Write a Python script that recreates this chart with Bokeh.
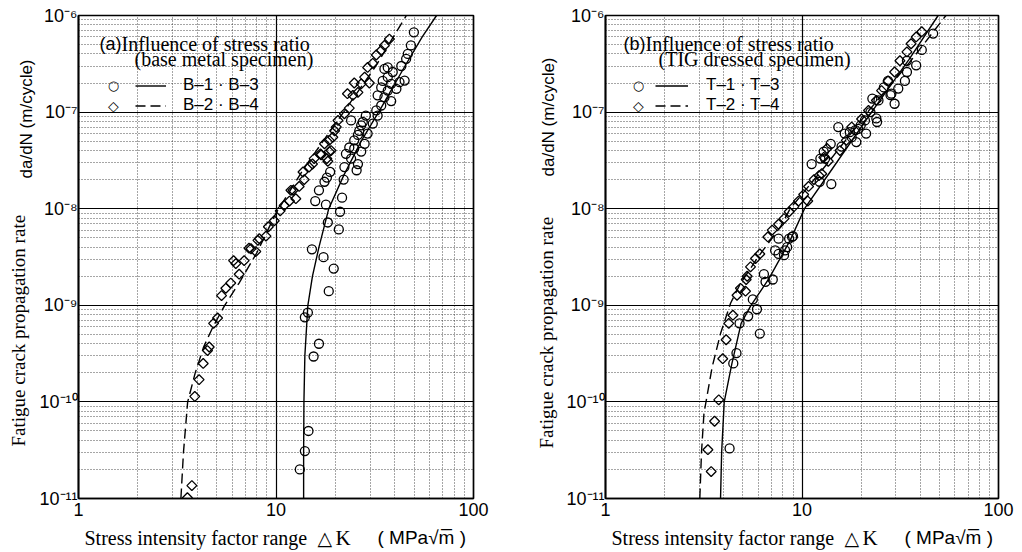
import numpy as np
from bokeh.plotting import figure
from bokeh.layouts import row, column
from bokeh.models import (Range1d, FixedTicker, CustomJSTickFormatter, Label,
                          Legend, LegendItem)
from bokeh.embed import file_html
from bokeh.resources import INLINE

# ---------------- data: panel (a) base metal ----------------
a_circle_K = [18.5, 14.5, 14.0, 16.5, 15.5, 14.6, 14.0, 13.2,
              15.2, 17.4, 19.6, 18.3, 20.8, 21.1, 21.6, 15.8, 16.5, 17.6, 18.8, 18.1,
              22.0, 22.2, 22.6, 17.9, 23.5, 24.9, 26.4, 27.5, 28.5, 27.0, 28.1, 26.0,
              25.6, 24.0, 29.1, 30.9, 32.7, 24.0, 32.2, 34.1, 35.4, 32.7, 36.8, 38.3,
              34.1, 40.7, 42.2, 44.8, 36.8, 39.0, 43.1, 45.6, 46.5, 48.2, 49.9, 34.7,
              38.3, 35.4, 36.8, 27.0, 26.0, 24.9]
a_circle_v = [1.4e-9, 8.4e-10, 7.5e-10, 4.0e-10, 2.95e-10, 5e-11, 3.1e-11, 2e-11,
              3.8e-9, 3.15e-9, 2.4e-9, 7.2e-9, 6.1e-9, 9.3e-9, 1.3e-8, 1.2e-8, 1.55e-8, 1.9e-8, 2.4e-8, 2.1e-8,
              2.0e-8, 2.7e-8, 3.7e-8, 1.1e-8, 4.3e-8, 5.1e-8, 6.4e-8, 7.9e-8, 9.2e-8, 3.9e-8, 4.7e-8, 2.9e-8,
              2.5e-8, 3.3e-8, 6e-8, 7.6e-8, 9.2e-8, 8.2e-8, 1.04e-7, 1.17e-7, 1.42e-7, 1.49e-7, 1.67e-7, 1.96e-7,
              1.8e-7, 1.74e-7, 2.04e-7, 2.12e-7, 2.9e-7, 2.6e-7, 3.0e-7, 3.56e-7, 4.0e-7, 4.9e-7, 6.7e-7, 2.1e-7,
              1.3e-7, 2.8e-7, 2.3e-7, 7.3e-8, 5.8e-8, 4.2e-8]
a_diamond_K = [3.56, 3.75, 3.88, 4.08, 4.28, 4.59, 4.5, 4.83, 5.06, 5.3, 5.57, 5.9,
               6.51, 6.26, 6.9, 7.47, 7.9, 8.23, 8.9, 9.15, 9.8, 10.5, 11.0, 11.7,
               12.6, 12.2, 13.1, 13.9, 13.7, 14.7, 15.6, 16.8, 18.1, 18.6, 17.6, 19.4,
               20.2, 18.6, 19.8, 20.6, 22.2, 23.5, 24.5, 26.0, 27.0, 28.1, 29.1, 30.9,
               32.2, 34.1, 35.4, 37.5, 29.7, 24.9, 23.0, 19.0, 16.9, 18.3, 15.3, 11.9,
               6.1, 7.3, 8.1]
a_diamond_v = [1.02e-11, 1.36e-11, 1.14e-10, 1.7e-10, 2.5e-10, 3.7e-10, 3.4e-10, 6.5e-10, 7.4e-10, 1.26e-9, 1.5e-9, 1.7e-9,
               2.1e-9, 2.7e-9, 2.9e-9, 3.85e-9, 3.6e-9, 4.9e-9, 5.2e-9, 6.5e-9, 7.5e-9, 9.5e-9, 1.08e-8, 1.2e-8,
               1.27e-8, 1.55e-8, 1.7e-8, 2.0e-8, 2.4e-8, 2.7e-8, 3.3e-8, 3.7e-8, 3.3e-8, 3.9e-8, 4.7e-8, 5.5e-8,
               7e-8, 5.1e-8, 6.4e-8, 8.2e-8, 9.6e-8, 1.1e-7, 1.49e-7, 1.6e-7, 1.96e-7, 2.3e-7, 2.9e-7, 3.2e-7,
               3.9e-7, 4.35e-7, 4.9e-7, 5.7e-7, 2.0e-7, 2.0e-7, 1.55e-7, 4.0e-8, 3.6e-8, 3.1e-8, 2.9e-8, 1.55e-8,
               2.9e-9, 3.9e-9, 4.7e-9]
a_solid_K = [13.8, 13.8, 13.85, 14.0, 14.5, 15.3, 16.5, 18.5, 22.0, 27.0, 34.0, 45.0, 55.0, 65.0]
a_solid_v = [1e-11, 3e-11, 1e-10, 3e-10, 1e-9, 2e-9, 4e-9, 1e-8, 2.2e-8, 5e-8, 1.1e-7, 3e-7, 6e-7, 1e-6]
a_dash_K = [3.3, 3.4, 3.57, 3.9, 4.3, 4.8, 5.5, 6.5, 8.0, 10.0, 14.0, 22.0, 32.0, 45.7]
a_dash_v = [1e-11, 3e-11, 1e-10, 2e-10, 3.7e-10, 6e-10, 1e-9, 1.7e-9, 3.5e-9, 9e-9, 2.7e-8, 1e-7, 3e-7, 1e-6]

# ---------------- data: panel (b) TIG dressed ----------------
b_circle_K = [4.28, 4.47, 4.64, 4.81, 5.32, 6.1, 5.9, 5.62, 6.52, 7.1, 6.4,
              7.6, 8.1, 8.4, 8.6, 8.9, 7.3, 7.6, 8.2, 9.0,
              14.1, 12.3, 18.9, 21.2, 23.9, 15.3, 16.5, 29.6, 28.5, 30.9, 33.4, 34.2,
              38.1, 46.5, 27.4, 24.5, 20.9, 19.3, 17.9, 15.9, 13.1, 11.2, 40.7, 34.2,
              22.3, 24.1, 28.2, 26.1, 22.8, 19.9, 18.7, 17.5, 14.0, 12.9, 12.4]
b_circle_v = [3.3e-11, 2.5e-10, 3.2e-10, 6.5e-10, 7.7e-10, 5.1e-10, 9.1e-10, 1.15e-9, 1.75e-9, 1.85e-9, 2.1e-9,
              3.4e-9, 3.3e-9, 4e-9, 4.9e-9, 5.1e-9, 3.7e-9, 4.9e-9, 3.7e-9, 5.2e-9,
              1.8e-8, 1.9e-8, 4.9e-8, 6e-8, 8.6e-8, 7.0e-8, 6e-8, 1.22e-7, 1.55e-7, 1.75e-7, 2.1e-7, 2.6e-7,
              3.05e-7, 6.5e-7, 2.1e-7, 1.32e-7, 8.2e-8, 6.7e-8, 5.5e-8, 4.4e-8, 3.3e-8, 2.9e-8, 4.4e-7, 3.4e-7,
              1.0e-7, 7.9e-8, 1.5e-7, 1.8e-7, 1.38e-7, 7.3e-8, 6.5e-8, 6.2e-8, 4.7e-8, 3.9e-8, 3.3e-8]
b_diamond_K = [3.45, 3.32, 3.59, 3.77, 3.95, 4.11, 4.24, 4.45, 4.67, 5.16, 5.2,
               4.86, 5.26, 5.47, 5.8, 6.1, 6.7, 7.05, 7.6, 8.1, 8.6, 9.1, 9.6, 10.2,
               10.8, 11.5, 12.2, 12.9, 13.4, 10.7, 12.6, 13.6, 15.6, 16.8, 17.9, 20.1,
               21.8, 23.9, 25.4, 27.4, 29.6, 31.5, 34.2, 35.9, 38.1, 40.7]
b_diamond_v = [1.9e-11, 3.2e-11, 6.3e-11, 1.05e-10, 2.8e-10, 4.4e-10, 6.5e-10, 7.9e-10, 1.27e-9, 1.4e-9, 1.85e-9,
               1.5e-9, 2.0e-9, 2.5e-9, 3.05e-9, 3.4e-9, 5.1e-9, 6e-9, 6.9e-9, 7.9e-9, 9.3e-9, 1.05e-8, 1.2e-8, 1.4e-8,
               1.7e-8, 2.0e-8, 2.2e-8, 3.4e-8, 4.2e-8, 1.2e-8, 2.3e-8, 3.1e-8, 4e-8, 5.1e-8, 7e-8, 8.5e-8,
               1.04e-7, 1.32e-7, 1.67e-7, 2.1e-7, 2.6e-7, 3.4e-7, 4.2e-7, 5.1e-7, 6.0e-7, 6.8e-7]
b_solid_K = [3.85, 3.9, 4.02, 4.4, 4.9, 5.5, 6.8, 8.7, 10.3, 13.7, 22.6, 35.0, 49.3]
b_solid_v = [1e-11, 3e-11, 1e-10, 2.5e-10, 6.5e-10, 1e-9, 1.9e-9, 4.7e-9, 1e-8, 2.3e-8, 1e-7, 3.5e-7, 1e-6]
b_dash_K = [3.02, 3.08, 3.17, 3.49, 3.85, 4.33, 4.86, 6.0, 7.77, 8.7, 13.4, 22.0, 35.0, 54.0]
b_dash_v = [1e-11, 3e-11, 7.6e-11, 2.3e-10, 5.1e-10, 1.05e-9, 1.68e-9, 3.2e-9, 6.5e-9, 1e-8, 2.9e-8, 1.05e-7, 3.2e-7, 1e-6]

x_major = [1, 10, 100]
y_major = [1e-11, 1e-10, 1e-9, 1e-8, 1e-7, 1e-6]
mantissas = [2, 3, 4, 5, 6, 7, 8, 9]
x_minor = [m * 10.0 ** e for e in (0, 1) for m in mantissas]
y_minor = [m * 10.0 ** e for e in range(-11, -6) for m in mantissas]

SERIF = "Liberation Serif"
SANS = "Liberation Sans"
H_TOP = 522

ytick_fmt = CustomJSTickFormatter(code="""
const sup = {'-':'\u207B','0':'\u2070','1':'\u00B9','2':'\u00B2','3':'\u00B3','4':'\u2074',
             '5':'\u2075','6':'\u2076','7':'\u2077','8':'\u2078','9':'\u2079'};
const e = String(Math.round(Math.log10(tick)));
let s = '10';
for (const c of e) { s += sup[c]; }
return s;
""")
xtick_fmt = CustomJSTickFormatter(code="return String(Math.round(tick));")


def add_label(p, text, x, y, font, size, angle=0.0, align="left"):
    p.add_layout(Label(x=x, y=y, x_units="screen", y_units="screen", text=text,
                       text_font=font, text_font_size=size, text_color="black",
                       text_align=align, text_baseline="middle", angle=angle))


def blank_fig(w, h):
    f = figure(width=w, height=h, x_range=Range1d(0, 1), y_range=Range1d(0, 1),
               output_backend="svg", toolbar_location=None, min_border=0,
               x_axis_location=None, y_axis_location=None)
    f.outline_line_color = None
    f.grid.visible = False
    f.background_fill_color = "white"
    f.border_fill_color = "white"
    return f


def make_panel(cK, cv, dK, dv, sK, sv, hK, hv, tag, line1, line2, lab1, lab2,
               width, left, right, title_dx, mark_dx, line_dx, line_w, line_standoff):
    p = figure(width=width, height=H_TOP, x_axis_type="log", y_axis_type="log",
               x_range=Range1d(1, 100), y_range=Range1d(1e-11, 1e-6),
               output_backend="svg", toolbar_location=None,
               min_border_left=left, min_border_right=right,
               min_border_top=15, min_border_bottom=H_TOP - 498)
    p.background_fill_color = "white"
    p.border_fill_color = "white"
    p.outline_line_color = "black"
    p.outline_line_width = 1.7

    xt = FixedTicker(ticks=x_major, minor_ticks=x_minor)
    yt = FixedTicker(ticks=y_major, minor_ticks=y_minor)
    p.xaxis.ticker = xt
    p.yaxis.ticker = yt
    p.xgrid.ticker = xt
    p.ygrid.ticker = yt
    p.xaxis.formatter = xtick_fmt
    p.yaxis.formatter = ytick_fmt
    for ax in (p.xaxis, p.yaxis):
        ax.axis_line_color = "black"
        ax.axis_line_width = 1.7
        ax.major_tick_line_color = None
        ax.minor_tick_line_color = None
        ax.major_tick_out = 0
        ax.major_tick_in = 0
        ax.major_label_text_font = SANS
        ax.major_label_text_color = "black"
        ax.major_label_text_font_size = "18px"
    p.xaxis.major_label_standoff = 0
    p.yaxis.major_label_standoff = -3

    for g in (p.xgrid, p.ygrid):
        g.grid_line_color = "black"
        g.grid_line_width = 1.2
        g.grid_line_alpha = 1.0
        g.minor_grid_line_color = "#222222"
        g.minor_grid_line_dash = "1 2"
        g.minor_grid_line_width = 1
        g.minor_grid_line_alpha = 0.8

    rs = p.line(sK, sv, line_color="black", line_width=1.4)
    rh = p.line(hK, hv, line_color="black", line_width=1.4, line_dash="10 5")
    p.scatter(cK, cv, marker="circle", size=9, fill_alpha=0.0,
              line_color="black", line_width=1.3)
    p.scatter(dK, dv, marker="square", angle=np.pi / 4, size=7,
              fill_alpha=0.0, line_color="black", line_width=1.3)

    fh = 483  # frame height
    ll = Legend(items=[LegendItem(label=lab1, renderers=[rs]),
                       LegendItem(label=lab2, renderers=[rh])],
                location=(line_dx, fh - 100), glyph_width=line_w, glyph_height=19,
                label_height=19, spacing=0, padding=0, margin=0,
                background_fill_alpha=0, border_line_alpha=0,
                label_text_font=SANS, label_text_font_size="17px",
                label_text_line_height=1.0,
                label_text_color="black", label_standoff=line_standoff)
    p.add_layout(ll, "center")
    add_label(p, "\u25CB", mark_dx, fh - 70, "DejaVu Sans", "13px", align="center")
    add_label(p, "\u25C7", mark_dx, fh - 90, "DejaVu Sans", "14px", align="center")

    add_label(p, tag, title_dx, fh - 28, SANS, "18px")
    add_label(p, line1, title_dx + 22, fh - 28, SERIF, "20px")
    add_label(p, line2, title_dx + 35, fh - 43, SERIF, "20px")
    return p


pa = make_panel(a_circle_K, a_circle_v, a_diamond_K, a_diamond_v,
                a_solid_K, a_solid_v, a_dash_K, a_dash_v,
                "(a)", "Influence of stress ratio", "(base metal specimen)",
                "B\u20131 \u00B7 B\u20133", "B\u20132 \u00B7 B\u20134",
                width=475, left=42, right=38, title_dx=21, mark_dx=35,
                line_dx=57, line_w=31, line_standoff=17)
pb = make_panel(b_circle_K, b_circle_v, b_diamond_K, b_diamond_v,
                b_solid_K, b_solid_v, b_dash_K, b_dash_v,
                "(b)", "Influence of stress ratio", "(TIG dressed specimen)",
                "T\u20131 \u00B7 T\u20133", "T\u20132 \u00B7 T\u20134",
                width=462, left=45, right=24, title_dx=18, mark_dx=33,
                line_dx=50, line_w=33, line_standoff=18)

# y-axis titles (separate strips so they are not clipped)
ya = blank_fig(36, H_TOP)
add_label(ya, "Fatigue crack propagation rate", 18, H_TOP - 470, SERIF, "19px", angle=np.pi / 2)
add_label(ya, "da/dN (m/cycle)", 26, H_TOP - 202, SANS, "17px", angle=np.pi / 2)
yb = blank_fig(49, H_TOP)
add_label(yb, "Fatigue crack propagation rate", 35, H_TOP - 472, SERIF, "19px", angle=np.pi / 2)
add_label(yb, "da/dN (m/cycle)", 37, H_TOP - 200, SANS, "17px", angle=np.pi / 2)

# x-axis titles
xl = blank_fig(1022, 552 - H_TOP)
for x0 in (84, 611):
    add_label(xl, "Stress intensity factor range", x0, 15, SERIF, "20px")
    add_label(xl, "\u25B3", x0 + 233, 15, "DejaVu Sans", "19px")
    add_label(xl, "K", x0 + 251, 15, SERIF, "21px")
    add_label(xl, "( MPa\u221Am\u0305 )", x0 + 293, 15, SANS, "19px")

layout = column(row(ya, pa, yb, pb, spacing=0), xl, spacing=0)
open("out.html", "w").write(file_html(layout, INLINE))
